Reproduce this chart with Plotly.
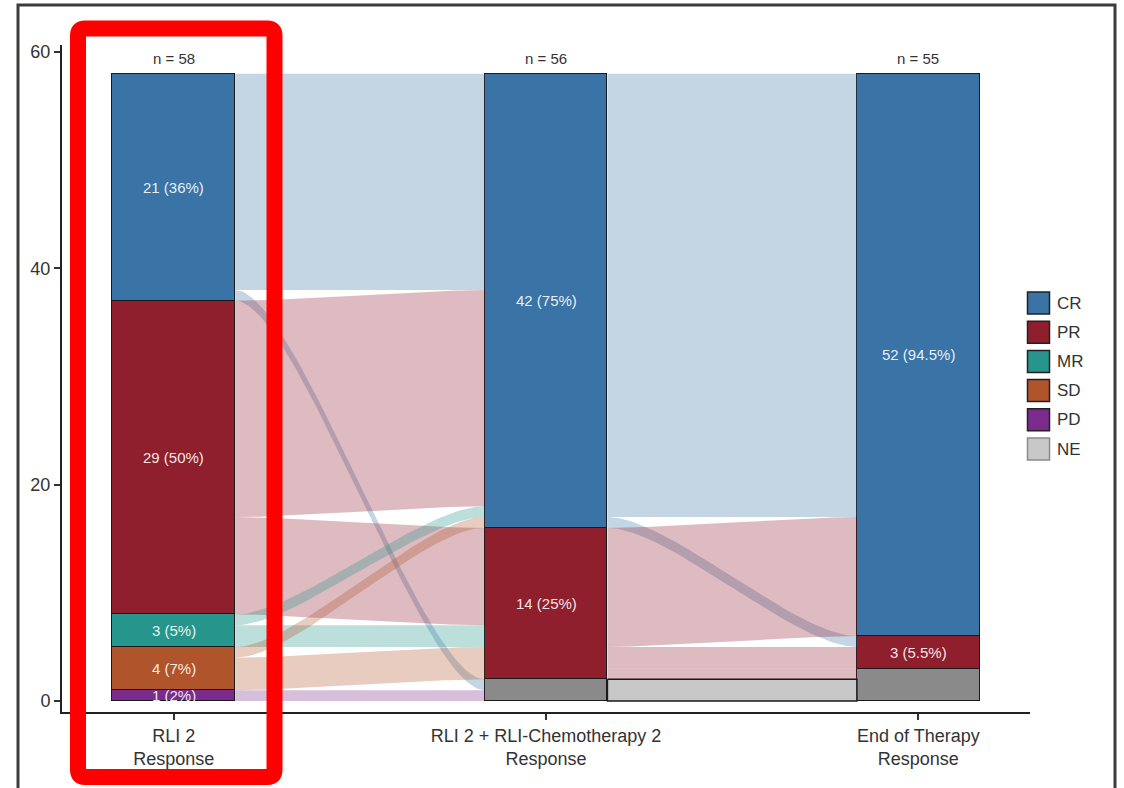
import plotly.graph_objects as go

# ---- data -----------------------------------------------------------------
stage_labels = ["RLI 2<br>Response",
                "RLI 2 + RLI-Chemotherapy 2<br>Response",
                "End of Therapy<br>Response"]
stage_n = [58, 56, 55]
pct_decimals = [0, 0, 1]

# response categories, listed top of stack first
categories = ["CR", "PR", "MR", "SD", "PD", "NE"]

counts_cr = [21, 42, 52]
counts_pr = [29, 14, 3]
counts_mr = [3, 0, 0]
counts_sd = [4, 0, 0]
counts_pd = [1, 0, 0]
counts_ne = [0, 2, 3]

# patient transitions between consecutive assessments: (from, to, patients)
flows_stage1_to_2 = [("CR", "CR", 20), ("CR", "NE", 1),
                     ("PR", "CR", 20), ("PR", "PR", 9),
                     ("MR", "CR", 1), ("MR", "PR", 2),
                     ("SD", "CR", 1), ("SD", "PR", 3),
                     ("PD", "NE", 1)]
flows_stage2_to_3 = [("CR", "CR", 41), ("CR", "PR", 1),
                     ("PR", "CR", 11), ("PR", "PR", 2), ("PR", "NE", 1),
                     ("NE", "NE", 2)]

# ---- styling --------------------------------------------------------------
bar_colors = {"CR": "#3a73a6", "PR": "#901f2e", "MR": "#26968c",
              "SD": "#b0552b", "PD": "#7a2b8c", "NE": "#8a8a8a"}
legend_colors = dict(bar_colors, NE="#c8c8c8")
FLOW_ALPHA = 0.3
BAR_W = 0.33
FONT = "Liberation Sans, Arial, sans-serif"
TEXT_COL = "#333333"

counts = {"CR": counts_cr, "PR": counts_pr, "MR": counts_mr,
          "SD": counts_sd, "PD": counts_pd, "NE": counts_ne}
n_stages = len(stage_labels)
order = {c: i for i, c in enumerate(categories)}

# bottoms of each stratum (stack from the last category upward)
bottoms = {c: [0] * n_stages for c in categories}
tops = {c: [0] * n_stages for c in categories}
for s in range(n_stages):
    acc = 0
    for c in reversed(categories):
        bottoms[c][s] = acc
        acc += counts[c][s]
        tops[c][s] = acc


def hex_rgba(h, a):
    h = h.lstrip("#")
    r, g, b = int(h[0:2], 16), int(h[2:4], 16), int(h[4:6], 16)
    return f"rgba({r},{g},{b},{a})"


def bezier_band(x0, x1, y0a, y0b, y1a, y1b, k=0.25, n=60):
    """Return polygon of a smooth band between two axes."""
    w = x1 - x0
    cx0, cx1 = x0 + k * w, x1 - k * w
    xs, top, bot = [], [], []
    for i in range(n + 1):
        t = i / n
        u = 1 - t
        b0, b1, b2, b3 = u ** 3, 3 * u * u * t, 3 * u * t * t, t ** 3
        xs.append(b0 * x0 + b1 * cx0 + b2 * cx1 + b3 * x1)
        top.append((b0 + b1) * y0a + (b2 + b3) * y1a)
        bot.append((b0 + b1) * y0b + (b2 + b3) * y1b)
    return xs + xs[::-1] + [xs[0]], top + bot[::-1] + [top[0]]


fig = go.Figure()

# ---- alluvial flows ---------------------------------------------------------
for s, flows in enumerate([flows_stage1_to_2, flows_stage2_to_3]):
    out_pos = {c: tops[c][s] for c in categories}
    in_pos = {c: tops[c][s + 1] for c in categories}
    src_rng, dst_rng = {}, {}
    for f in sorted(flows, key=lambda f: (order[f[0]], order[f[1]])):
        src_rng[f] = (out_pos[f[0]], out_pos[f[0]] - f[2])
        out_pos[f[0]] -= f[2]
    for f in sorted(flows, key=lambda f: (order[f[1]], order[f[0]])):
        dst_rng[f] = (in_pos[f[1]], in_pos[f[1]] - f[2])
        in_pos[f[1]] -= f[2]
    x0, x1 = s + BAR_W / 2, s + 1 - BAR_W / 2
    for f in flows:
        xs, ys = bezier_band(x0, x1, src_rng[f][0], src_rng[f][1],
                             dst_rng[f][0], dst_rng[f][1])
        if f[0] == "NE":
            fill = legend_colors["NE"]
            line = dict(color="#1a1a1a", width=1.5)
        else:
            fill = hex_rgba(bar_colors[f[0]], FLOW_ALPHA)
            line = dict(width=0)
        fig.add_trace(go.Scatter(x=xs, y=ys, mode="lines", fill="toself",
                                 fillcolor=fill, line=line,
                                 hoverinfo="skip", showlegend=False))

# ---- stacked strata -------------------------------------------------------
for c in reversed(categories):
    vals = [v if v > 0 else None for v in counts[c]]
    fig.add_trace(go.Bar(x=list(range(n_stages)), y=vals, width=BAR_W,
                         marker=dict(color=bar_colors[c],
                                     line=dict(color="#1a1a1a", width=1.5)),
                         name=c, showlegend=False, hoverinfo="skip"))

annotations = []
for c in categories:
    if c == "NE":
        continue
    for s in range(n_stages):
        v = counts[c][s]
        if v <= 0:
            continue
        pct = 100 * v / stage_n[s]
        label = f"{v} ({pct:.{pct_decimals[s]}f}%)"
        annotations.append(dict(x=s, y=(bottoms[c][s] + tops[c][s]) / 2,
                                xref="x", yref="y", text=label,
                                showarrow=False,
                                font=dict(family=FONT, size=15,
                                          color="rgba(255,255,255,0.9)")))

for s in range(n_stages):
    total = sum(counts[c][s] for c in categories)
    annotations.append(dict(x=s, y=total, xref="x", yref="y",
                            text=f"n = {stage_n[s]}", showarrow=False,
                            yanchor="middle", yshift=15,
                            font=dict(family=FONT, size=15, color=TEXT_COL)))

# ---- page geometry (pixels) used for legend and decorations ---------------
PL, PR_, PT, PB = 62, 1030, 45, 712


def px_x(px):
    return (px - PL) / (PR_ - PL)


def px_y(py):
    return (PB - py) / (PB - PT)


shapes = []
# legend
for i, c in enumerate(categories):
    cy = 303 + i * 29.2
    shapes.append(dict(type="rect", xref="paper", yref="paper",
                       x0=px_x(1027.5), x1=px_x(1049.5),
                       y0=px_y(cy + 11), y1=px_y(cy - 11),
                       fillcolor=legend_colors[c],
                       line=dict(color="#8a8a8a" if c == "NE" else "#222222",
                                 width=1.5)))
    annotations.append(dict(x=px_x(1055), y=px_y(cy), xref="paper",
                            yref="paper", text=c, showarrow=False,
                            xanchor="left", yanchor="middle",
                            font=dict(family=FONT, size=17, color=TEXT_COL)))

# outer frame
shapes.append(dict(type="rect", xref="paper", yref="paper",
                   x0=px_x(18), x1=px_x(1115), y0=px_y(820), y1=px_y(5),
                   line=dict(color="#3c3c3c", width=3), layer="above"))


# highlight around the first assessment
def rounded_path(x0, y0, x1, y1, r):
    pts = [("M", [(x0 + r, y0)]), ("L", [(x1 - r, y0)]),
           ("Q", [(x1, y0), (x1, y0 + r)]), ("L", [(x1, y1 - r)]),
           ("Q", [(x1, y1), (x1 - r, y1)]), ("L", [(x0 + r, y1)]),
           ("Q", [(x0, y1), (x0, y1 - r)]), ("L", [(x0, y0 + r)]),
           ("Q", [(x0, y0), (x0 + r, y0)])]
    out = ""
    for cmd, ps in pts:
        out += cmd + " ".join(f"{px_x(a):.5f},{px_y(b):.5f}" for a, b in ps) + " "
    return out + "Z"


shapes.append(dict(type="path", xref="paper", yref="paper",
                   path=rounded_path(78, 28.5, 274.5, 777, 7),
                   line=dict(color="#ff0000", width=16), layer="above"))

fig.update_layout(
    width=1124, height=788,
    margin=dict(l=PL, r=1124 - PR_, t=PT, b=788 - PB),
    paper_bgcolor="white", plot_bgcolor="white",
    barmode="stack", bargap=0,
    showlegend=False,
    font=dict(family=FONT, color=TEXT_COL),
    annotations=annotations, shapes=shapes,
    xaxis=dict(range=[-0.3, 2.3], tickvals=list(range(n_stages)),
               ticktext=stage_labels, showgrid=False, zeroline=False,
               showline=True, linecolor="#222222", linewidth=2,
               ticks="outside", ticklen=6, tickwidth=1.5, tickcolor="#333333",
               tickfont=dict(family=FONT, size=18, color=TEXT_COL)),
    yaxis=dict(range=[-1.02, 60.65], tickvals=[0, 20, 40, 60],
               showgrid=False, zeroline=False,
               showline=True, linecolor="#222222", linewidth=2,
               ticks="outside", ticklen=6, tickwidth=1.5, tickcolor="#333333",
               tickfont=dict(family=FONT, size=18, color=TEXT_COL)),
)

fig.write_html("out.html")
